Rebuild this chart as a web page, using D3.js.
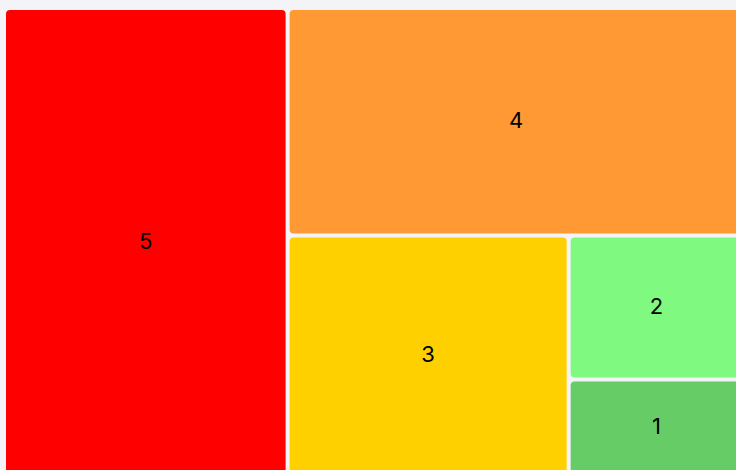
<!DOCTYPE html>
<html>
<head>
<meta charset="utf-8">
<script src="https://cdn.jsdelivr.net/npm/d3@7"></script>
<style>
  html, body { margin: 0; padding: 0; background: #f4f3f7; overflow: hidden; }
  svg { display: block; }
</style>
</head>
<body>
<svg id="chart" width="736" height="470"></svg>
<script>
// Data
const categories = ["5", "4", "3", "2", "1"];
const values = [38.3, 30.0, 19.5, 7.3, 4.9];
const colors = ["#ff0000", "#ff9933", "#ffd000", "#80f980", "#66cc66"];

// Build nested hierarchy (each level: one leaf + the rest) for slice/dice tiling
function nest(i) {
  const leaf = { name: categories[i], value: values[i], color: colors[i] };
  if (i === categories.length - 1) return leaf;
  if (i === categories.length - 2) {
    const last = { name: categories[i + 1], value: values[i + 1], color: colors[i + 1] };
    return { children: [leaf, last] };
  }
  return { children: [leaf, nest(i + 1)] };
}
const rootData = nest(0);

const svg = d3.select("#chart");
const root = d3.hierarchy(rootData).sum(d => d.value || 0);

d3.treemap()
  .tile(d3.treemapSliceDice)
  .size([736.5, 464])
  .paddingInner(4)
  .round(false)(root);

const g = svg.append("g").attr("transform", "translate(6,10)");

const leaves = g.selectAll("g.cell")
  .data(root.leaves())
  .join("g")
  .attr("class", "cell");

leaves.append("rect")
  .attr("x", d => d.x0)
  .attr("y", d => d.y0)
  .attr("width", d => d.x1 - d.x0)
  .attr("height", d => d.y1 - d.y0)
  .attr("rx", 4)
  .attr("ry", 4)
  .attr("fill", d => d.data.color);

leaves.append("text")
  .attr("x", d => (d.x0 + d.x1) / 2)
  .attr("y", d => (d.y0 + d.y1) / 2)
  .attr("dy", -1.5)
  .attr("text-anchor", "middle")
  .attr("dominant-baseline", "central")
  .attr("font-family", "Inter, 'Open Sans', sans-serif")
  .attr("font-size", 22)
  .attr("fill", "#000")
  .text(d => d.data.name);
</script>
</body>
</html>
